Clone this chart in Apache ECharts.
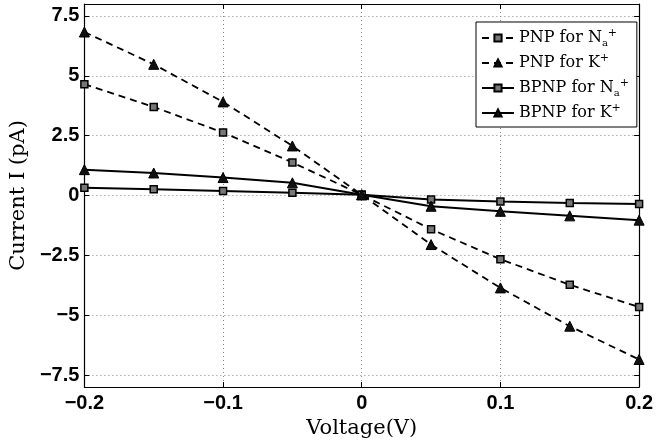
<!DOCTYPE html>
<html>
<head>
<meta charset="utf-8">
<script src="https://cdn.jsdelivr.net/npm/echarts@6/dist/echarts.min.js"></script>
<style>
html,body{margin:0;padding:0;background:#fff;}
#chart{width:656px;height:444px;}
</style>
</head>
<body>
<div id="chart"></div>
<script>
const voltages = [-0.2, -0.15, -0.1, -0.05, 0, 0.05, 0.1, 0.15, 0.2];
const pnpNa = [4.65, 3.70, 2.63, 1.38, 0.03, -1.41, -2.66, -3.73, -4.66];
const pnpK = [6.83, 5.48, 3.91, 2.07, 0.03, -2.05, -3.86, -5.46, -6.85];
const bpnpNa = [0.32, 0.26, 0.19, 0.12, 0.03, -0.17, -0.25, -0.31, -0.36];
const bpnpK = [1.08, 0.94, 0.75, 0.53, 0.03, -0.45, -0.66, -0.85, -1.03];
const yTicks = [-7.5, -5, -2.5, 0, 2.5, 5, 7.5];
const seriesNames = ['PNP for Na', 'PNP for K', 'BPNP for Na', 'BPNP for K'];

const pairs = arr => voltages.map((v, i) => [v, arr[i]]);
const fmt = v => (v === 0 ? '0' : String(v).replace('-', '\u2212'));

const tickFont = { fontFamily: 'Liberation Sans', fontWeight: 'bold', fontSize: 20, color: '#000' };
const nameFont = { fontFamily: 'DejaVu Serif', fontSize: 21, color: '#000' };
const gridLine = { show: true, lineStyle: { color: '#888', type: [1, 3], width: 1 } };

const squareStyle = { color: '#777', borderColor: '#000', borderWidth: 1.5 };
const triStyle = { color: '#111', borderColor: '#000', borderWidth: 1 };

const chart = echarts.init(document.getElementById('chart'), null, { renderer: 'canvas' });
chart.setOption({
  backgroundColor: '#fff',
  animation: false,
  grid: { left: 79, right: 15, top: 4, bottom: 57, show: false },
  xAxis: [{
    type: 'value', min: -0.2, max: 0.2, interval: 0.1, position: 'bottom',
    name: 'Voltage(V)', nameLocation: 'middle', nameGap: 17, nameTextStyle: nameFont,
    axisLine: { show: true, onZero: false, lineStyle: { color: '#000', width: 1.2 } },
    axisTick: { show: true, inside: true, length: 5, lineStyle: { color: '#000' } },
    axisLabel: Object.assign({ margin: 6, formatter: v => fmt(Math.round(v * 10) / 10) }, tickFont),
    splitLine: gridLine
  }, {
    type: 'value', min: -0.2, max: 0.2, interval: 0.1, position: 'top',
    axisLine: { show: true, onZero: false, lineStyle: { color: '#000', width: 1.2 } },
    axisTick: { show: true, inside: true, length: 5, lineStyle: { color: '#000' } },
    axisLabel: { show: false }, splitLine: { show: false }
  }],
  yAxis: [{
    type: 'value', min: -8, max: 8, position: 'left',
    name: 'Current I (pA)', nameLocation: 'middle', nameGap: 50, nameTextStyle: nameFont,
    axisLine: { show: true, onZero: false, lineStyle: { color: '#000', width: 1.2 } },
    axisTick: { show: true, inside: true, length: 5, customValues: yTicks, lineStyle: { color: '#000' } },
    axisLabel: Object.assign({ margin: 5, customValues: yTicks, formatter: fmt }, tickFont),
    splitLine: Object.assign({ customValues: yTicks }, gridLine)
  }, {
    type: 'value', min: -8, max: 8, position: 'right',
    axisLine: { show: true, onZero: false, lineStyle: { color: '#000', width: 1.2 } },
    axisTick: { show: true, inside: true, length: 5, customValues: yTicks, lineStyle: { color: '#000' } },
    axisLabel: { show: false, customValues: yTicks }, splitLine: { show: false }
  }],
  legend: {
    orient: 'vertical', left: 476, top: 22,
    padding: [6, 8, 4, 5], itemGap: 5, itemWidth: 32, itemHeight: 9,
    backgroundColor: '#fff', borderColor: '#000', borderWidth: 1, borderRadius: 0,
    data: seriesNames,
    formatter: function (name) {
      if (name.endsWith('Na')) return name.slice(0, -1) + '{sub|a}{sup|+}';
      return name + '{sup|+}';
    },
    textStyle: {
      fontFamily: 'DejaVu Serif', fontSize: 16, color: '#000', lineHeight: 20,
      rich: {
        sub: { fontFamily: 'DejaVu Serif', fontSize: 10, lineHeight: 20, verticalAlign: 'bottom', color: '#000' },
        sup: { fontFamily: 'DejaVu Serif', fontSize: 11, lineHeight: 20, verticalAlign: 'top', color: '#000' }
      }
    }
  },
  series: [{
    name: seriesNames[0], type: 'line', data: pairs(pnpNa),
    symbol: 'rect', symbolSize: 7, itemStyle: squareStyle,
    lineStyle: { color: '#000', width: 1.8, type: [7, 5] }
  }, {
    name: seriesNames[1], type: 'line', data: pairs(pnpK),
    symbol: 'triangle', symbolSize: 10, itemStyle: triStyle,
    lineStyle: { color: '#000', width: 1.8, type: [7, 5] }
  }, {
    name: seriesNames[2], type: 'line', data: pairs(bpnpNa),
    symbol: 'rect', symbolSize: 7, itemStyle: squareStyle,
    lineStyle: { color: '#000', width: 2, type: 'solid' }
  }, {
    name: seriesNames[3], type: 'line', data: pairs(bpnpK),
    symbol: 'triangle', symbolSize: 10, itemStyle: triStyle,
    lineStyle: { color: '#000', width: 2, type: 'solid' }
  }]
});
</script>
</body>
</html>
